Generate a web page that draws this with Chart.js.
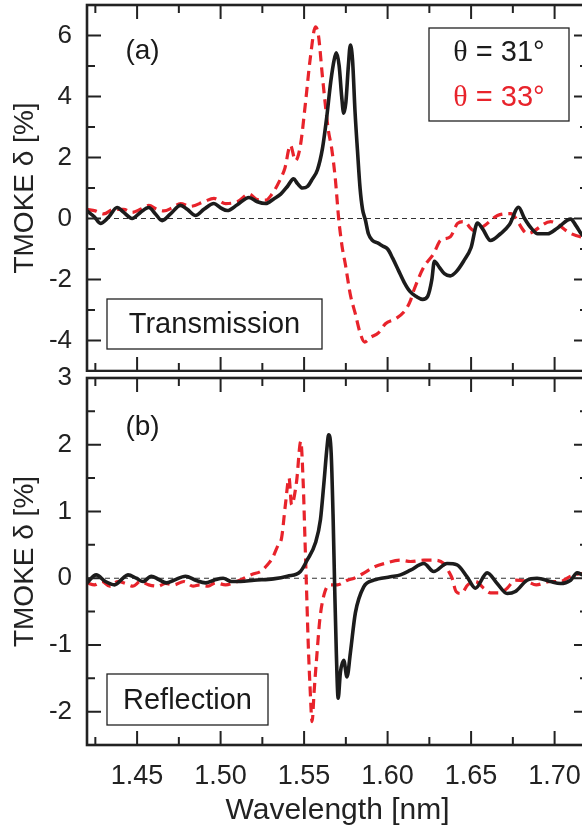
<!DOCTYPE html>
<html><head><meta charset="utf-8">
<script src="https://cdn.jsdelivr.net/npm/chart.js@4.4.1/dist/chart.umd.min.js"></script>
<style>
html,body{margin:0;padding:0;background:#fff;overflow:hidden;width:582px;height:830px;}
#bot{position:absolute;left:0;top:355px;}
#top{position:absolute;left:0;top:0;}
</style></head><body>
<canvas id="bot" width="600" height="475"></canvas>
<canvas id="top" width="600" height="372"></canvas>
<script>
// ---------- data ----------
const seriesLabels = ['θ = 31°', 'θ = 33°'];
const xTickValues = [1.425,1.45,1.475,1.50,1.525,1.55,1.575,1.60,1.625,1.65,1.675,1.70];
const xTickLabeled = [1.45,1.50,1.55,1.60,1.65,1.70];
const topYTickValues = [-5,-4,-3,-2,-1,0,1,2,3,4,5,6,7];
const topYTickLabeled = [-4,-2,0,2,4,6];
const botYTickValues = [-2.5,-2,-1.5,-1,-0.5,0,0.5,1,1.5,2,2.5,3];
const botYTickLabeled = [-2,-1,0,1,2,3];

// (a) Transmission, theta = 31 deg
const trans31X = [1.420,1.4245,1.428,1.433,1.438,1.442,1.447,1.452,1.457,1.461,1.465,1.470,1.476,1.480,1.485,1.490,1.496,1.500,1.504,1.510,1.517,1.522,1.527,1.532,1.536,1.540,1.5437,1.546,1.549,1.552,1.555,1.558,1.561,1.5635,1.566,1.568,1.5693,1.571,1.5725,1.5737,1.575,1.5765,1.5777,1.579,1.5805,1.582,1.5835,1.585,1.5867,1.5885,1.591,1.594,1.597,1.600,1.603,1.6065,1.610,1.6135,1.617,1.621,1.624,1.6265,1.628,1.631,1.634,1.6375,1.641,1.6455,1.650,1.6538,1.657,1.6616,1.6676,1.673,1.6784,1.682,1.6865,1.6898,1.6958,1.702,1.7096,1.713,1.7167,1.720];
const trans31Y = [0.25,0.05,-0.16,0.05,0.36,0.2,0.0,0.2,0.36,0.15,-0.07,0.15,0.43,0.3,0.1,0.3,0.49,0.35,0.26,0.45,0.69,0.55,0.49,0.65,0.8,1.05,1.3,1.15,1.0,1.05,1.3,1.6,2.3,3.3,4.5,5.2,5.43,5.0,4.0,3.45,3.8,5.0,5.69,5.2,3.5,2.2,1.0,0.3,-0.05,-0.5,-0.72,-0.8,-0.9,-1.0,-1.3,-1.7,-2.1,-2.4,-2.55,-2.65,-2.55,-2.0,-1.4,-1.6,-1.81,-1.88,-1.75,-1.4,-0.95,-0.15,-0.35,-0.72,-0.5,-0.2,0.37,0.0,-0.35,-0.5,-0.5,-0.3,-0.02,-0.25,-0.55,-0.6];

// (a) Transmission, theta = 33 deg
const trans33X = [1.420,1.425,1.430,1.436,1.442,1.447,1.452,1.457,1.462,1.466,1.471,1.476,1.482,1.490,1.496,1.503,1.510,1.517,1.522,1.527,1.531,1.535,1.5385,1.5418,1.5448,1.5478,1.5508,1.5538,1.5568,1.5586,1.561,1.5645,1.5665,1.5687,1.5707,1.5727,1.5747,1.5777,1.5807,1.5837,1.5862,1.5897,1.5945,1.5987,1.6047,1.6107,1.6136,1.6156,1.6215,1.6276,1.6317,1.6376,1.6419,1.6456,1.6515,1.6576,1.6658,1.6736,1.6838,1.6976,1.7096,1.7167,1.720];
const trans33Y = [0.3,0.25,0.15,0.3,0.3,0.2,0.3,0.43,0.3,0.25,0.35,0.49,0.4,0.55,0.66,0.49,0.55,0.8,0.62,0.6,0.82,1.2,1.65,2.4,1.9,2.4,3.78,5.3,6.28,6.0,4.64,2.9,2.3,1.3,0.0,-0.9,-1.5,-2.5,-3.13,-3.78,-4.05,-3.9,-3.75,-3.45,-3.29,-3.0,-2.7,-2.37,-1.61,-1.15,-0.72,-0.6,-0.16,-0.1,-0.39,-0.25,0.1,0.16,-0.49,-0.1,-0.49,-0.62,-0.65];

// (b) Reflection, theta = 31 deg
const refl31X = [1.420,1.4255,1.431,1.4365,1.4415,1.4445,1.4495,1.4535,1.4585,1.463,1.4675,1.472,1.479,1.485,1.491,1.496,1.5015,1.5065,1.512,1.520,1.5316,1.540,1.5478,1.5518,1.5568,1.5598,1.5617,1.5638,1.5647,1.5662,1.5674,1.5683,1.5693,1.5704,1.5717,1.5737,1.5757,1.5777,1.5807,1.5857,1.5917,1.6017,1.6077,1.6137,1.6217,1.6276,1.6356,1.6416,1.6476,1.6526,1.6596,1.6656,1.6716,1.6765,1.6835,1.6895,1.6975,1.7035,1.7096,1.7135,1.7167,1.720];
const refl31Y = [-0.07,0.05,-0.05,-0.1,0.0,0.05,0.0,-0.05,0.03,-0.02,-0.07,-0.03,0.03,-0.03,-0.07,-0.03,0.0,-0.05,-0.05,-0.03,-0.01,0.03,0.1,0.27,0.53,0.88,1.38,1.98,2.15,1.88,0.88,-0.13,-1.12,-1.8,-1.42,-1.23,-1.48,-1.12,-0.52,-0.13,-0.03,0.02,0.05,0.12,0.22,0.1,0.22,0.2,0.02,-0.15,0.08,-0.08,-0.23,-0.2,-0.03,0.0,-0.05,-0.08,-0.03,0.08,0.05,0.03];

// (b) Reflection, theta = 33 deg
const refl33X = [1.420,1.4245,1.429,1.4335,1.4385,1.443,1.4475,1.452,1.457,1.4625,1.467,1.472,1.478,1.4835,1.4875,1.4925,1.497,1.503,1.508,1.514,1.519,1.524,1.528,1.531,1.5345,1.5365,1.5388,1.541,1.5425,1.5455,1.548,1.5495,1.5505,1.5515,1.5525,1.5535,1.5548,1.556,1.5575,1.5595,1.5625,1.566,1.570,1.576,1.580,1.586,1.592,1.598,1.6077,1.6137,1.6217,1.6276,1.6336,1.6366,1.6386,1.641,1.644,1.648,1.6526,1.6576,1.6616,1.6676,1.6716,1.6765,1.6835,1.689,1.6975,1.7035,1.7096,1.7167,1.720];
const refl33Y = [-0.07,-0.1,-0.05,-0.12,-0.05,-0.08,-0.12,-0.05,-0.1,-0.12,-0.08,-0.1,-0.05,-0.12,-0.1,-0.12,-0.07,-0.1,-0.07,0.0,0.06,0.1,0.2,0.3,0.5,0.6,1.1,1.5,1.1,1.45,2.05,1.4,0.6,-0.2,-1.0,-1.6,-2.15,-1.7,-1.2,-0.6,-0.2,-0.1,-0.1,-0.03,0.0,0.08,0.17,0.22,0.27,0.25,0.27,0.27,0.22,0.1,0.0,-0.2,-0.23,-0.1,-0.05,-0.15,-0.22,-0.22,-0.15,-0.03,-0.05,-0.1,-0.05,-0.05,0.03,0.07,0.07];

// ---------- styling / drawing ----------
const SANS = "'Liberation Sans', Arial, sans-serif";
const SERIF = "'Liberation Serif', 'Times New Roman', serif";
const BLACK = '#1c1c1c';
const RED = '#e8232b';
Chart.defaults.font.family = SANS;
Chart.defaults.color = '#222';

const pts = (xs, ys) => xs.map((x, i) => ({x, y: ys[i]}));

const panelPlugin = {
  id: 'panel',
  beforeDatasetsDraw(chart) {
    const {ctx, chartArea: a, scales: {y}} = chart;
    const y0 = y.getPixelForValue(0);
    ctx.save();
    ctx.strokeStyle = '#333'; ctx.lineWidth = 1.1; ctx.setLineDash([5, 4]);
    ctx.beginPath(); ctx.moveTo(a.left, y0); ctx.lineTo(a.right, y0); ctx.stroke();
    ctx.restore();
  },
  afterDraw(chart, args, o) {
    const {ctx, chartArea: a, scales: {x, y}} = chart;
    ctx.save();
    ctx.strokeStyle = '#222';
    ctx.lineWidth = 2;
    x.ticks.forEach(t => {
      const px = x.getPixelForValue(t.value);
      const len = o.xMajor.includes(t.value) ? 14 : 8;
      ctx.beginPath();
      ctx.moveTo(px, a.bottom); ctx.lineTo(px, a.bottom - len);
      ctx.moveTo(px, a.top); ctx.lineTo(px, a.top + len);
      ctx.stroke();
    });
    y.ticks.forEach(t => {
      const py = y.getPixelForValue(t.value);
      const len = o.yMajor.includes(t.value) ? 14 : 8;
      ctx.beginPath();
      ctx.moveTo(a.left, py); ctx.lineTo(a.left + len, py);
      ctx.moveTo(a.right, py); ctx.lineTo(a.right - len, py);
      ctx.stroke();
    });
    ctx.lineWidth = 2.6;
    ctx.strokeRect(a.left, a.top, a.right - a.left, a.bottom - a.top);
    ctx.fillStyle = '#1a1a1a';
    ctx.textAlign = 'center'; ctx.textBaseline = 'middle';
    ctx.font = '28px ' + SANS;
    ctx.fillText(o.label, a.left + o.labelPos[0], a.top + o.labelPos[1]);
    const b = o.box;
    ctx.lineWidth = 1.3; ctx.strokeStyle = '#222';
    const bx = a.left + b.left, by = a.bottom - b.bottom - b.h;
    ctx.strokeRect(bx, by, b.w, b.h);
    ctx.font = '29px ' + SANS;
    ctx.fillText(b.text, bx + b.w / 2, by + b.h / 2 + 1);
    if (o.legend) {
      const L = o.legend;
      const lx = a.left + L.left, ly = a.top + L.top;
      ctx.strokeRect(lx, ly, L.w, L.h);
      chart.data.datasets.forEach((ds, i) => {
        const txt = ds.label;
        const first = txt.charAt(0), rest = txt.slice(1);
        ctx.font = '30px ' + SERIF; const w1 = ctx.measureText(first).width;
        ctx.font = '29px ' + SANS; const w2 = ctx.measureText(rest).width;
        const cx = lx + L.w / 2, cy = ly + L.rows[i];
        const sx = cx - (w1 + w2) / 2;
        ctx.textAlign = 'left';
        ctx.fillStyle = ds.borderColor;
        ctx.font = '30px ' + SERIF; ctx.fillText(first, sx, cy);
        ctx.font = '29px ' + SANS; ctx.fillText(rest, sx + w1, cy);
      });
    }
    ctx.restore();
  }
};

function makeChart(id, d31, d33, cfg) {
  return new Chart(document.getElementById(id), {
    type: 'line',
    data: {
      datasets: [
        {label: seriesLabels[0], data: d31, borderColor: BLACK, borderWidth: 3.6,
         pointRadius: 0, cubicInterpolationMode: 'monotone', fill: false, order: 0},
        {label: seriesLabels[1], data: d33, borderColor: RED, borderWidth: 3.2,
         borderDash: [10, 6], pointRadius: 0, cubicInterpolationMode: 'monotone', fill: false, order: 1}
      ]
    },
    options: {
      responsive: false, animation: false, devicePixelRatio: 1,
      layout: {padding: cfg.padding, autoPadding: false},
      plugins: {legend: {display: false}, tooltip: {enabled: false}, panel: cfg.panel},
      scales: {
        x: {
          type: 'linear', min: 1.42, max: 1.72,
          afterBuildTicks: s => { s.ticks = xTickValues.map(v => ({value: v})); },
          afterFit: s => { s.height = cfg.xHeight; s.paddingLeft = 0; s.paddingRight = 0; },
          grid: {display: false, drawTicks: false}, border: {display: false},
          ticks: {display: cfg.xLabels, autoSkip: false, maxRotation: 0, padding: 15,
                  font: {size: 27}, color: '#222',
                  callback: v => xTickLabeled.some(t => Math.abs(t - v) < 1e-9) ? v.toFixed(2) : ''},
          title: {display: cfg.xLabels, text: 'Wavelength [nm]', font: {size: 30}, color: '#222',
                  padding: {top: 0, bottom: 1}}
        },
        y: {
          type: 'linear', min: cfg.yMin, max: cfg.yMax,
          afterBuildTicks: s => { s.ticks = cfg.yTicks.map(v => ({value: v})); },
          afterFit: s => { s.width = 87; s.paddingTop = 0; s.paddingBottom = 0; },
          grid: {display: false, drawTicks: false}, border: {display: false},
          ticks: {autoSkip: false, padding: 15, font: {size: 26}, color: '#222',
                  callback: v => cfg.yLabeled.includes(v) ? String(v) : ''},
          title: {display: true, text: 'TMOKE δ [%]', font: {size: 28}, color: '#222',
                  padding: {top: 8, bottom: 0}}
        }
      }
    },
    plugins: [panelPlugin]
  });
}

makeChart('top', pts(trans31X, trans31Y), pts(trans33X, trans33Y), {
  padding: {top: 5, right: 12, left: 0, bottom: 1},
  xHeight: 0, xLabels: false,
  yMin: -5, yMax: 7, yTicks: topYTickValues, yLabeled: topYTickLabeled,
  panel: {label: '(a)', labelPos: [55.5, 46.5], xMajor: xTickLabeled, yMajor: topYTickLabeled,
          box: {text: 'Transmission', left: 20, bottom: 22, w: 215, h: 50},
          legend: {left: 342, top: 23, w: 140, h: 93, rows: [25, 70]}}
});

makeChart('bot', pts(refl31X, refl31Y), pts(refl33X, refl33Y), {
  padding: {top: 23, right: 12, left: 0, bottom: 0},
  xHeight: 85, xLabels: true,
  yMin: -2.5, yMax: 3, yTicks: botYTickValues, yLabeled: botYTickLabeled,
  panel: {label: '(b)', labelPos: [55.5, 49.5], xMajor: xTickLabeled, yMajor: botYTickLabeled,
          box: {text: 'Reflection', left: 20, bottom: 20, w: 161, h: 51},
          legend: null}
});
</script>
</body></html>
